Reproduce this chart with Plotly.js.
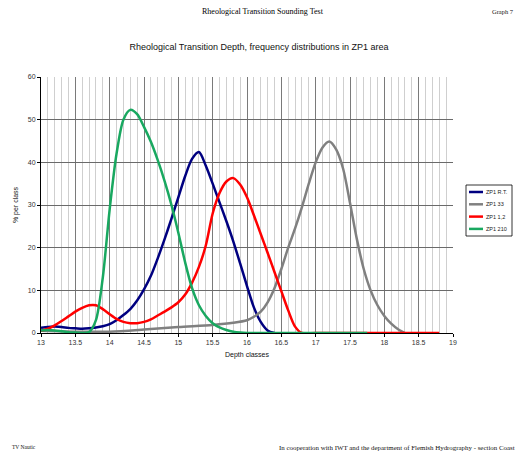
<!DOCTYPE html>
<html>
<head>
<meta charset="utf-8">
<script src="https://cdn.plot.ly/plotly-3.0.1.min.js"></script>
<style>
html,body{margin:0;padding:0;background:#fff;}
#chart{width:518px;height:456px;}
</style>
</head>
<body>
<div id="chart"></div>
<script>
// Depth classes and % per class
const xRT = [13.0,13.1,13.2,13.3,13.4,13.5,13.6,13.7,13.8,13.9,14.0,14.1,14.2,14.3,14.4,14.5,14.6,14.7,14.8,14.9,15.0,15.1,15.2,15.3,15.4,15.5,15.6,15.7,15.8,15.9,16.0,16.1,16.2,16.3,16.4];
const yRT = [1.2,1.4,1.5,1.4,1.2,1.1,1.0,1.1,1.3,1.6,2.1,3.0,4.2,5.6,7.6,10.2,13.4,17.5,22.0,26.8,31.8,36.8,40.8,42.4,39.2,35.0,30.6,26.2,21.5,16.3,11.0,6.0,2.6,0.6,0];

const x33 = [13.0,13.5,14.0,14.5,15.0,15.5,15.8,16.0,16.1,16.2,16.3,16.4,16.5,16.6,16.7,16.8,16.9,17.0,17.1,17.2,17.3,17.4,17.5,17.6,17.7,17.8,17.9,18.0,18.1,18.2,18.3];
const y33 = [0.5,0.3,0.3,0.8,1.4,1.9,2.4,3.0,3.8,5.0,7.2,10.5,15.0,20.0,24.5,29.5,35.0,40.0,43.5,44.9,43.0,38.5,30.5,22.0,15.0,10.0,6.5,4.0,2.2,0.9,0];

const x12 = [13.0,13.1,13.2,13.3,13.4,13.5,13.6,13.7,13.8,13.9,14.0,14.1,14.2,14.3,14.4,14.5,14.6,14.7,14.8,14.9,15.0,15.1,15.2,15.3,15.4,15.5,15.6,15.7,15.8,15.9,16.0,16.1,16.2,16.3,16.4,16.5,16.6,16.7,16.8,17.0,17.5,18.0,18.5,18.8];
const y12 = [0.5,1.0,1.8,2.8,3.9,5.0,5.9,6.5,6.5,5.6,4.4,3.3,2.6,2.3,2.3,2.6,3.2,4.1,5.0,6.0,7.2,9.0,11.8,15.5,20.5,28.0,32.8,35.5,36.3,34.8,31.8,27.6,23.2,18.8,14.3,9.8,5.3,1.5,0,0,0,0,0,0];

const x210 = [13.0,13.1,13.2,13.3,13.4,13.5,13.6,13.7,13.8,13.9,14.0,14.1,14.2,14.3,14.4,14.5,14.6,14.7,14.8,14.9,15.0,15.1,15.2,15.3,15.4,15.5,15.6,15.7,15.8,15.9,16.0,16.5,17.0,17.5,17.75];
const y210 = [0.6,0.7,0.6,0.4,0.2,0.1,0,0.2,3.0,13.0,29.0,42.0,50.0,52.3,51.3,48.3,44.8,40.5,35.6,30.0,23.5,16.5,10.5,6.5,4.0,2.3,1.3,0.7,0.3,0.1,0,0,0,0,0];

const names = ['ZP1 R.T.','ZP1 33','ZP1 1,2','ZP1 210'];
const colors = ['#000080','#808080','#ff0000','#19a860'];
const xs = [xRT,x33,x12,x210];
const ys = [yRT,y33,y12,y210];
const xTicks = [13,13.5,14,14.5,15,15.5,16,16.5,17,17.5,18,18.5,19];

const traces = names.map((n,i)=>({
  x: xs[i], y: ys[i], name: n, type:'scatter', mode:'lines',
  line:{color:colors[i], width:2.5, shape:'spline', smoothing:0.8},
  showlegend:false
}));

const serif = 'Liberation Serif, Times New Roman, serif';
const sans = 'Liberation Sans, Arial, sans-serif';

// plot area geometry in pixels (for paper-coordinate text placement)
const L = 41, R = 453, T = 77, B = 333;
const px = v => (v - L) / (R - L);
const py = v => (B - v) / (B - T);

// custom compact legend box (Excel style)
const lgX0 = 466, lgX1 = 512, lgY0 = 185, lgY1 = 236;
const shapes = [{type:'rect', xref:'paper', yref:'paper', x0:px(lgX0), x1:px(lgX1), y0:py(lgY1), y1:py(lgY0),
  line:{color:'#000', width:0.8}, fillcolor:'#fff', layer:'above'}];
const annotations = [];
names.forEach((n,i)=>{
  const yy = lgY0 + 7 + i*12.3;
  shapes.push({type:'line', xref:'paper', yref:'paper', x0:px(lgX0+3), x1:px(lgX0+17), y0:py(yy), y1:py(yy),
    line:{color:colors[i], width:2.5}, layer:'above'});
  annotations.push({text:n, xref:'paper', yref:'paper', x:px(lgX0+18), y:py(yy), xanchor:'left', yanchor:'middle',
    showarrow:false, font:{family:sans, size:5.5, color:'#222'}});
});

annotations.push(
  {text:'Rheological Transition Sounding Test', xref:'paper', yref:'paper',
    x:px(263), y:py(11), xanchor:'center', yanchor:'middle', showarrow:false,
    font:{family:serif, size:8, color:'#000'}},
  {text:'Graph 7', xref:'paper', yref:'paper', x:px(516), y:py(11),
    xanchor:'right', yanchor:'middle', showarrow:false, font:{family:serif, size:6.5, color:'#111'}},
  {text:'TV Nautic', xref:'paper', yref:'paper', x:px(10), y:py(447),
    xanchor:'left', yanchor:'middle', showarrow:false, font:{family:serif, size:5.5, color:'#111'}},
  {text:'In cooperation with IWT and the department of Flemish Hydrography - section Coast', xref:'paper', yref:'paper',
    x:px(517), y:py(447), xanchor:'right', yanchor:'middle', showarrow:false,
    font:{family:serif, size:6.9, color:'#111'}}
);

const layout = {
  width:518, height:456,
  margin:{l:L, r:518-R, t:T, b:456-B, autoexpand:false},
  paper_bgcolor:'#fff', plot_bgcolor:'#fff',
  showlegend:false,
  title:{text:'Rheological Transition Depth, frequency distributions in ZP1 area',
    font:{family:sans, size:9, color:'#111'}, x:0.5, xanchor:'center', y:1-47/456, yanchor:'middle'},
  xaxis:{range:[13,19], tickvals:xTicks, ticks:'outside', ticklen:3, tickcolor:'#000',
    showline:true, linecolor:'#000', linewidth:1, mirror:false, zeroline:false,
    showgrid:true, gridcolor:'#7a7a7a', gridwidth:1,
    minor:{dtick:0.1, showgrid:true, gridcolor:'#cfcfcf', gridwidth:1, ticks:''},
    tickfont:{family:sans, size:7, color:'#333'},
    title:{text:'Depth classes', font:{family:sans, size:7, color:'#111'}, standoff:6}},
  yaxis:{range:[0,60], dtick:10, ticks:'outside', ticklen:3, tickcolor:'#000',
    showline:true, linecolor:'#000', linewidth:1, zeroline:false,
    showgrid:true, gridcolor:'#6a6a6a', gridwidth:1,
    tickfont:{family:sans, size:7, color:'#333'},
    title:{text:'% per class', font:{family:sans, size:7, color:'#111'}, standoff:8}},
  shapes:shapes,
  annotations:annotations
};

Plotly.newPlot('chart', traces, layout, {displayModeBar:false, staticPlot:true});
</script>
</body>
</html>
